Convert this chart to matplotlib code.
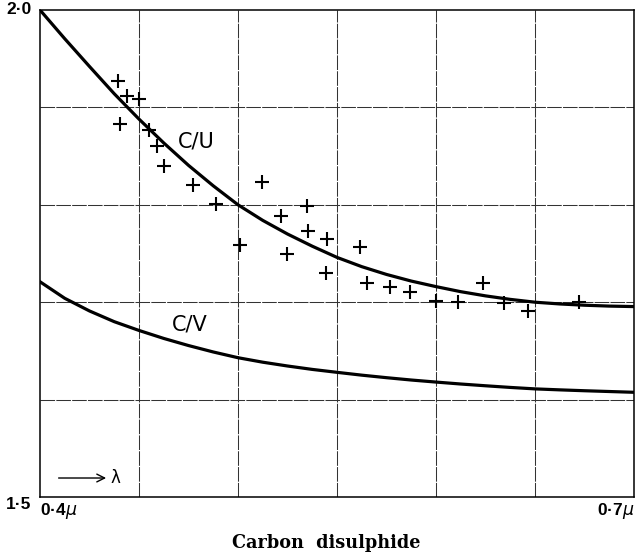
import matplotlib
matplotlib.use("Agg")
import matplotlib.pyplot as plt

# refractive-index style curves for carbon disulphide
wl_cu = [0.400, 0.4125, 0.425, 0.4375, 0.450, 0.4625, 0.475, 0.4875, 0.500, 0.5125,
         0.525, 0.5375, 0.550, 0.5625, 0.575, 0.5875, 0.600, 0.6125, 0.625, 0.6375,
         0.650, 0.6625, 0.675, 0.6875, 0.700]
cu = [2.000, 1.9705, 1.942, 1.914, 1.888, 1.8635, 1.8405, 1.8195, 1.800, 1.784,
      1.770, 1.7575, 1.746, 1.7365, 1.7285, 1.7217, 1.716, 1.7108, 1.7065, 1.7029,
      1.700, 1.6982, 1.6969, 1.696, 1.6955]

wl_cv = [0.400, 0.4125, 0.425, 0.4375, 0.450, 0.4625, 0.475, 0.4875, 0.500, 0.5125,
         0.525, 0.5375, 0.550, 0.5625, 0.575, 0.5875, 0.600, 0.6125, 0.625, 0.6375,
         0.650, 0.6625, 0.675, 0.6875, 0.700]
cv = [1.721, 1.704, 1.691, 1.680, 1.671, 1.6628, 1.6555, 1.6489, 1.643, 1.6384,
      1.6345, 1.631, 1.628, 1.6251, 1.6225, 1.6201, 1.618, 1.616, 1.6142, 1.6125,
      1.611, 1.610, 1.6091, 1.6083, 1.6075]

# measured points (+)
obs_x = [0.4395, 0.4441, 0.4502, 0.4404, 0.4552, 0.4592, 0.4626, 0.4771, 0.4889, 0.5120,
         0.5010, 0.5217, 0.5347, 0.5355, 0.5451, 0.5246, 0.5616, 0.5443, 0.5653, 0.5768,
         0.5869, 0.6000, 0.6111, 0.6239, 0.6343, 0.6463, 0.6720]
obs_y = [1.927, 1.912, 1.909, 1.883, 1.877, 1.860, 1.840, 1.820, 1.801, 1.823,
         1.759, 1.789, 1.799, 1.773, 1.765, 1.750, 1.757, 1.730, 1.720, 1.716,
         1.710, 1.7015, 1.7005, 1.720, 1.699, 1.691, 1.700]

grid_x = [0.45, 0.50, 0.55, 0.60, 0.65]
grid_y = [1.6, 1.7, 1.8, 1.9]

fig = plt.figure(figsize=(6.42, 5.58), dpi=100)
ax = fig.add_axes([40 / 642, 1 - 497 / 558, 594 / 642, 487 / 558])
ax.set_xlim(0.4, 0.7)
ax.set_ylim(1.5, 2.0)

for gx in grid_x:
    ax.axvline(gx, color="#333333", lw=0.75, ls=(0, (14, 1.2)), zorder=1)
for gy in grid_y:
    ax.axhline(gy, color="#333333", lw=0.75, ls=(0, (14, 1.2)), zorder=1)

ax.plot(wl_cu, cu, color="black", lw=2.3, solid_joinstyle="round", zorder=3)
ax.plot(wl_cv, cv, color="black", lw=2.3, solid_joinstyle="round", zorder=3)
ax.plot(obs_x, obs_y, ls="none", marker="+", ms=10, mew=1.5, color="black", zorder=4)

ax.text(0.4695, 1.865, "C/U", fontsize=15, family="DejaVu Sans", va="center", ha="left")
ax.text(0.4665, 1.677, "C/V", fontsize=15, family="DejaVu Sans", va="center", ha="left")

ax.annotate("", xy=(0.4348, 1.5195), xytext=(0.408, 1.5195),
            arrowprops=dict(arrowstyle="->", color="black", lw=1.0, mutation_scale=14))
ax.text(0.4355, 1.5195, "λ", fontsize=12, va="center", ha="left", family="DejaVu Sans")

for s in ax.spines.values():
    s.set_linewidth(1.1)
ax.tick_params(length=0)
ax.set_xticks([0.4, 0.7])
ax.set_xticklabels(["0·4$\\mu$", "0·7$\\mu$"], fontsize=12.5, fontweight="bold", family="Liberation Sans")
ax.set_yticks([1.5, 2.0])
ax.set_yticklabels(["1·5", "2·0"], fontsize=12.5, fontweight="bold", family="Liberation Sans")
xl = ax.get_xticklabels()
xl[0].set_ha("left")
xl[1].set_ha("right")
ax.tick_params(axis="x", pad=3)
ax.tick_params(axis="y", pad=6)
yl = ax.get_yticklabels()
yl[0].set_va("top")
yl[1].set_va("center")

fig.text(326 / 642, 1 - 543 / 558, "Carbon  disulphide", ha="center", va="center",
         fontsize=12.7, family="DejaVu Serif", fontweight="bold")

fig.savefig("out.png", dpi=100)
